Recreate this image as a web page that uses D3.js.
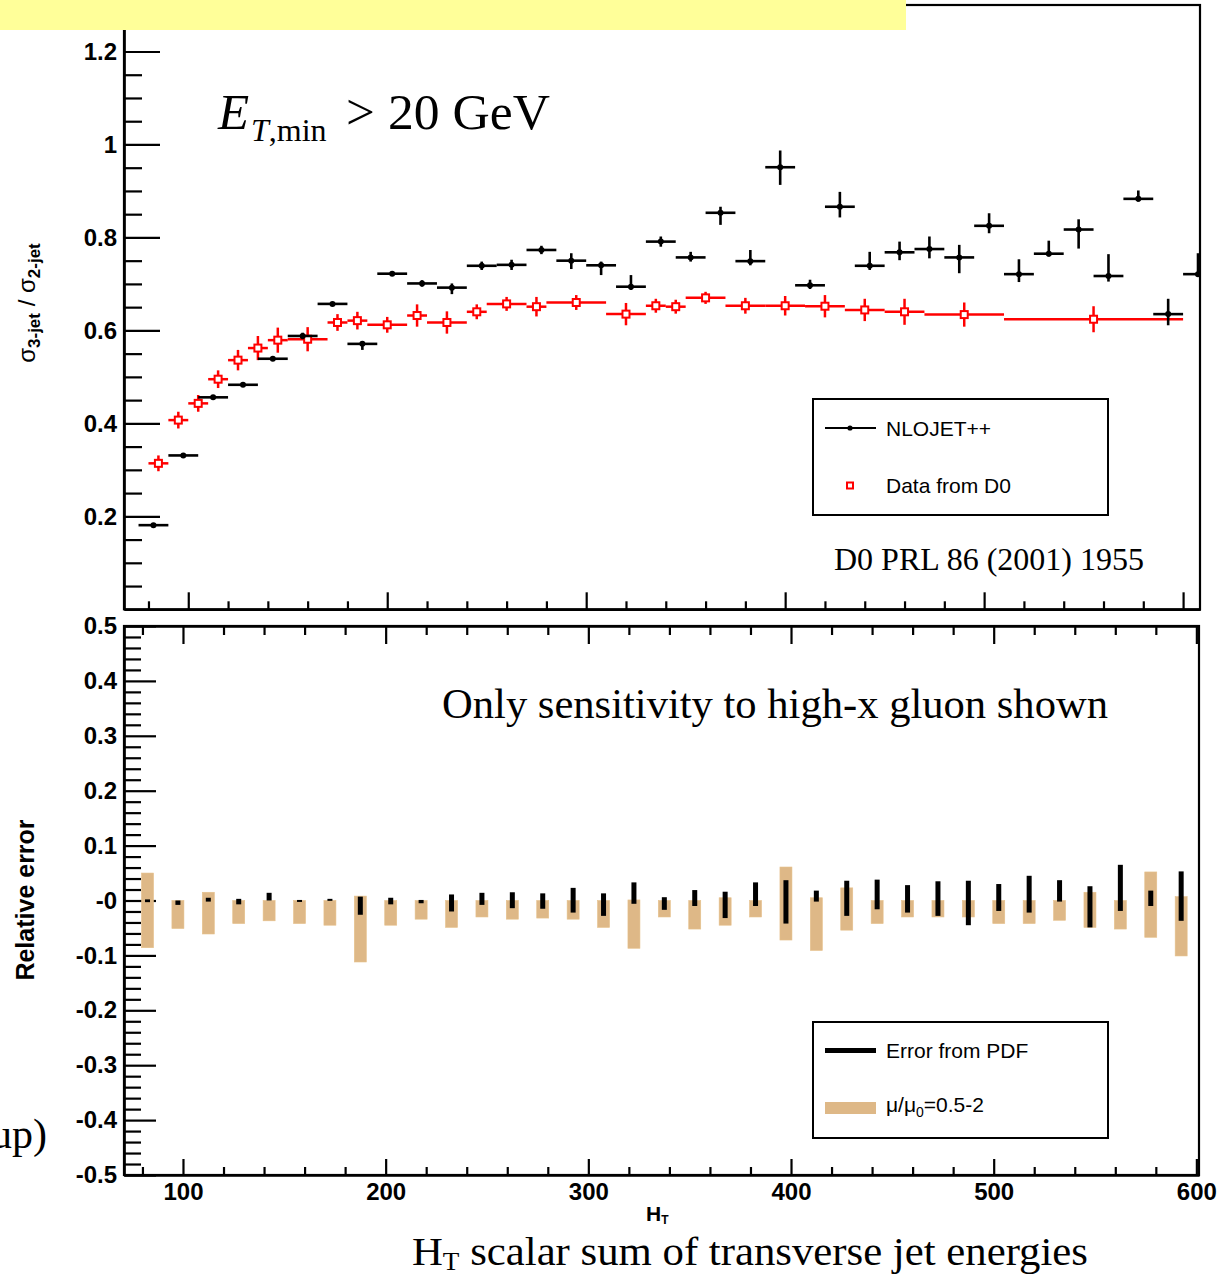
<!DOCTYPE html>
<html>
<head>
<meta charset="utf-8">
<script src="https://cdn.jsdelivr.net/npm/d3@7"></script>
<style>
  html, body { margin: 0; padding: 0; background: #fff; }
  svg { display: block; }
</style>
</head>
<body>
<svg id="chart" width="1230" height="1276"></svg>
<script>
// ---------------- DATA ----------------
// NLOJET++ bins (H_T centres, GeV) and bin width
const htBinCentres = [82.5, 97.5, 112.5, 127.5, 142.5, 157.5, 172.5, 187.5, 202.5, 217.5, 232.5, 247.5,
  262.5, 277.5, 292.5, 307.5, 322.5, 337.5, 352.5, 367.5, 382.5, 397.5, 412.5, 427.5, 442.5, 457.5,
  472.5, 487.5, 502.5, 517.5, 532.5, 547.5, 562.5, 577.5, 592.5, 607.5];
const htBinWidth = 15;

// sigma(3-jet)/sigma(2-jet) from NLOJET++
const nloRatio = [0.181, 0.331, 0.456, 0.483, 0.539, 0.588, 0.657, 0.571, 0.722, 0.701, 0.692, 0.739,
  0.741, 0.773, 0.750, 0.740, 0.694, 0.791, 0.757, 0.853, 0.749, 0.951, 0.697, 0.866, 0.739, 0.768,
  0.775, 0.757, 0.825, 0.721, 0.765, 0.817, 0.717, 0.883, 0.635, 0.721];
const nloErrHi = [0.002, 0.003, 0.003, 0.003, 0.004, 0.007, 0.003, 0.006, 0.003, 0.007, 0.009, 0.009,
  0.011, 0.009, 0.016, 0.008, 0.025, 0.011, 0.012, 0.013, 0.024, 0.036, 0.012, 0.032, 0.030, 0.023,
  0.027, 0.027, 0.027, 0.032, 0.028, 0.022, 0.047, 0.018, 0.033, 0.045];
const nloErrLo = [0.002, 0.003, 0.003, 0.003, 0.004, 0.007, 0.003, 0.013, 0.003, 0.007, 0.014, 0.009,
  0.011, 0.009, 0.018, 0.021, 0.007, 0.011, 0.009, 0.026, 0.009, 0.038, 0.008, 0.023, 0.009, 0.017,
  0.020, 0.034, 0.016, 0.017, 0.006, 0.041, 0.012, 0.006, 0.024, 0.002];

// D0 data: bin edges, ratio, error
const d0Edges = [80, 90, 100, 110, 120, 130, 140, 150, 170, 180, 190, 210, 220, 240, 250, 270, 280,
  310, 330, 340, 350, 370, 390, 410, 430, 450, 470, 510, 600];
const d0Ratio = [0.314, 0.407, 0.443, 0.495, 0.536, 0.562, 0.579, 0.581, 0.617, 0.621, 0.612, 0.632,
  0.617, 0.640, 0.657, 0.651, 0.660, 0.635, 0.653, 0.651, 0.670, 0.653, 0.653, 0.652, 0.644, 0.640,
  0.634, 0.624];
const d0Err = [0.017, 0.018, 0.018, 0.019, 0.022, 0.026, 0.027, 0.026, 0.018, 0.019, 0.017, 0.024,
  0.024, 0.016, 0.015, 0.021, 0.016, 0.024, 0.015, 0.015, 0.013, 0.017, 0.021, 0.024, 0.024, 0.028,
  0.026, 0.028];

// Relative errors (lower panel), first 35 bins
const scaleHi = [0.050, 0, 0.015, 0, 0, 0, 0, 0.008, 0, 0, 0, 0, 0, 0, 0, 0, 0.001, 0, 0, 0.005, 0,
  0.061, 0.005, 0.023, 0, 0, 0, 0, 0, 0, 0, 0.015, 0, 0.052, 0.007];
const scaleLo = [-0.086, -0.051, -0.061, -0.042, -0.037, -0.042, -0.045, -0.112, -0.045, -0.034, -0.049,
  -0.030, -0.034, -0.032, -0.034, -0.049, -0.087, -0.030, -0.052, -0.045, -0.030, -0.072, -0.091, -0.054,
  -0.042, -0.030, -0.030, -0.030, -0.042, -0.042, -0.036, -0.049, -0.052, -0.067, -0.101];
const pdfHi = [0.002, 0, 0.005, 0.003, 0.014, 0.001, 0.003, 0.007, 0.005, 0.001, 0.011, 0.014, 0.015,
  0.013, 0.023, 0.013, 0.033, 0.006, 0.019, 0.016, 0.033, 0.037, 0.018, 0.036, 0.038, 0.028, 0.035,
  0.036, 0.030, 0.045, 0.037, 0.026, 0.065, 0.018, 0.053];
const pdfLo = [-0.003, -0.008, -0.002, -0.007, 0, -0.001, 0, -0.026, -0.007, -0.005, -0.020, -0.008,
  -0.014, -0.015, -0.022, -0.028, -0.006, -0.017, -0.010, -0.032, -0.010, -0.042, -0.002, -0.028,
  -0.016, -0.022, -0.028, -0.045, -0.019, -0.022, -0.002, -0.049, -0.019, -0.010, -0.037];

// Tick values / labels
const topYMajor = [0.2, 0.4, 0.6, 0.8, 1.0, 1.2];
const botYMajor = [0.5, 0.4, 0.3, 0.2, 0.1, 0, -0.1, -0.2, -0.3, -0.4, -0.5];
const xMajor = [100, 200, 300, 400, 500, 600];

// ---------------- DRAWING ----------------
const svg = d3.select("#chart");
const BLACK = "#000", RED = "#ff0000", TAN = "#deb887";
const sansBold = "'Liberation Sans', Arial, Helvetica, sans-serif";
const serif = "'Liberation Serif', 'Times New Roman', serif";

// Scales
const xTop = d3.scaleLinear().domain([67.7, 608.5]).range([124, 1200]);
const yTop = d3.scaleLinear().domain([0, 1.3]).range([609.3, 5]);
const xBot = d3.scaleLinear().domain([70.9, 601.3]).range([124, 1199]);
const yBot = d3.scaleLinear().domain([-0.5, 0.5]).range([1175, 626]);

const TICKFONT = 24;
function styleAxis(g) {
  g.selectAll("path.domain").attr("stroke", BLACK).attr("stroke-width", 2.2);
  g.selectAll(".tick line").attr("stroke", BLACK).attr("stroke-width", 2.2);
  g.selectAll(".tick text").attr("fill", BLACK).style("font-family", sansBold)
    .style("font-weight", "bold").style("font-size", TICKFONT + "px");
}
function minorVals(lo, hi, step, exclude) {
  const out = [];
  for (let v = lo; v <= hi + 1e-9; v += step) {
    const r = Math.round(v * 1000) / 1000;
    if (!exclude.some(e => Math.abs(e - r) < 1e-6)) out.push(r);
  }
  return out;
}

// ===== TOP PANEL =====
const topG = svg.append("g");
topG.append("rect").attr("x", 124).attr("y", 5).attr("width", 1200 - 124).attr("height", 609.3 - 5)
  .attr("fill", "none").attr("stroke", BLACK).attr("stroke-width", 2.2);

topG.append("g").attr("transform", "translate(124,0)")
  .call(d3.axisLeft(yTop).tickValues(minorVals(0.05, 1.3, 0.05, topYMajor)).tickSize(-18).tickSizeOuter(0).tickFormat(""))
  .call(styleAxis);
topG.append("g").attr("transform", "translate(124,0)")
  .call(d3.axisLeft(yTop).tickValues(topYMajor).tickSize(-36).tickSizeOuter(0).tickPadding(7)
    .tickFormat(d => d3.format("~g")(d)))
  .call(styleAxis);
topG.append("g").attr("transform", "translate(0,609.3)")
  .call(d3.axisBottom(xTop).tickValues(minorVals(80, 600, 20, xMajor)).tickSize(-8).tickSizeOuter(0).tickFormat(""))
  .call(styleAxis);
topG.append("g").attr("transform", "translate(0,609.3)")
  .call(d3.axisBottom(xTop).tickValues(xMajor).tickSize(-17).tickSizeOuter(0).tickFormat(""))
  .call(styleAxis);

svg.append("defs").append("clipPath").attr("id", "clipTop")
  .append("rect").attr("x", 124).attr("y", 5).attr("width", 1076).attr("height", 604);

const topData = topG.append("g").attr("clip-path", "url(#clipTop)");

// D0 data (red)
const d0 = d0Ratio.map((v, i) => ({ lo: d0Edges[i], hi: d0Edges[i + 1], v, e: d0Err[i] }));
const redG = topData.append("g");
redG.selectAll("line.h").data(d0).join("line").attr("class", "h")
  .attr("x1", d => xTop(d.lo)).attr("x2", d => xTop(d.hi))
  .attr("y1", d => yTop(d.v)).attr("y2", d => yTop(d.v))
  .attr("stroke", RED).attr("stroke-width", 2.5);
redG.selectAll("line.v").data(d0).join("line").attr("class", "v")
  .attr("x1", d => xTop((d.lo + d.hi) / 2)).attr("x2", d => xTop((d.lo + d.hi) / 2))
  .attr("y1", d => yTop(d.v - d.e)).attr("y2", d => yTop(d.v + d.e))
  .attr("stroke", RED).attr("stroke-width", 2.5);
redG.selectAll("rect").data(d0).join("rect")
  .attr("x", d => xTop((d.lo + d.hi) / 2) - 3.5).attr("y", d => yTop(d.v) - 3.5)
  .attr("width", 7).attr("height", 7).attr("fill", "#fff").attr("stroke", RED).attr("stroke-width", 2);

// NLOJET++ (black)
const nlo = nloRatio.map((v, i) => ({ c: htBinCentres[i], v, eh: nloErrHi[i], el: nloErrLo[i] }));
const blkG = topData.append("g");
blkG.selectAll("line.h").data(nlo).join("line").attr("class", "h")
  .attr("x1", d => xTop(d.c - htBinWidth / 2)).attr("x2", d => xTop(d.c + htBinWidth / 2))
  .attr("y1", d => yTop(d.v)).attr("y2", d => yTop(d.v))
  .attr("stroke", BLACK).attr("stroke-width", 2.6);
blkG.selectAll("line.v").data(nlo).join("line").attr("class", "v")
  .attr("x1", d => xTop(d.c)).attr("x2", d => xTop(d.c))
  .attr("y1", d => yTop(d.v - d.el)).attr("y2", d => yTop(d.v + d.eh))
  .attr("stroke", BLACK).attr("stroke-width", 2.6);
blkG.selectAll("circle").data(nlo).join("circle")
  .attr("cx", d => xTop(d.c)).attr("cy", d => yTop(d.v)).attr("r", 3).attr("fill", BLACK);

// top y title
const ty = svg.append("text").attr("transform", "translate(35,303) rotate(-90)")
  .attr("text-anchor", "middle").attr("fill", BLACK)
  .style("font-family", sansBold).style("font-weight", "bold");
ty.append("tspan").text("σ").style("font-size", "24px").style("font-weight", "normal");
ty.append("tspan").text("3-jet").style("font-size", "17px").attr("dy", 5);
ty.append("tspan").text(" / ").style("font-size", "24px").style("font-weight", "normal").attr("dy", -5);
ty.append("tspan").text("σ").style("font-size", "24px").style("font-weight", "normal");
ty.append("tspan").text("2-jet").style("font-size", "17px").attr("dy", 5);

// Top legend
const lg1 = svg.append("g");
lg1.append("rect").attr("x", 813).attr("y", 399).attr("width", 295).attr("height", 116)
  .attr("fill", "#fff").attr("stroke", BLACK).attr("stroke-width", 2);
lg1.append("line").attr("x1", 825).attr("x2", 876).attr("y1", 428).attr("y2", 428)
  .attr("stroke", BLACK).attr("stroke-width", 2.2);
lg1.append("circle").attr("cx", 850).attr("cy", 428).attr("r", 2.6).attr("fill", BLACK);
lg1.append("text").attr("x", 886).attr("y", 435.5).text("NLOJET++")
  .style("font-family", sansBold).style("font-size", "21px").attr("fill", BLACK);
lg1.append("rect").attr("x", 847).attr("y", 482.5).attr("width", 6).attr("height", 6)
  .attr("fill", "#fff").attr("stroke", RED).attr("stroke-width", 2);
lg1.append("text").attr("x", 886).attr("y", 492.5).text("Data from D0")
  .style("font-family", sansBold).style("font-size", "21px").attr("fill", BLACK);

// Annotations top
svg.append("text").attr("x", 834).attr("y", 570).text("D0 PRL 86 (2001) 1955")
  .style("font-family", serif).style("font-size", "32px").attr("fill", BLACK)
  .attr("textLength", 310).attr("lengthAdjust", "spacingAndGlyphs");
const et = svg.append("g").style("font-family", serif).attr("fill", BLACK);
et.append("text").attr("x", 218).attr("y", 129).text("E").style("font-style", "italic").style("font-size", "51px");
const sub = et.append("text").attr("x", 251).attr("y", 141).style("font-size", "32px");
sub.append("tspan").text("T").style("font-style", "italic");
sub.append("tspan").text(",min");
et.append("text").attr("x", 346).attr("y", 129).text(">").style("font-size", "51px");
et.append("text").attr("x", 388).attr("y", 129).text("20 GeV").style("font-size", "51px")
  .attr("textLength", 162).attr("lengthAdjust", "spacingAndGlyphs");

// Yellow banner
svg.append("rect").attr("x", 0).attr("y", 0).attr("width", 906).attr("height", 30).attr("fill", "#ffff99");

// ===== BOTTOM PANEL =====
const botG = svg.append("g");
botG.append("rect").attr("x", 124).attr("y", 626).attr("width", 1199 - 124).attr("height", 1175 - 626)
  .attr("fill", "none").attr("stroke", BLACK).attr("stroke-width", 2.2);

const botMinorY = minorVals(-0.5, 0.5, 0.02, botYMajor);
botG.append("g").attr("transform", "translate(124,0)")
  .call(d3.axisLeft(yBot).tickValues(botMinorY).tickSize(-17).tickSizeOuter(0).tickFormat(""))
  .call(styleAxis);
botG.append("g").attr("transform", "translate(124,0)")
  .call(d3.axisLeft(yBot).tickValues(botYMajor).tickSize(-32).tickSizeOuter(0).tickPadding(7)
    .tickFormat(d => d === 0 ? "-0" : d3.format("~g")(d).replace("−", "-")))
  .call(styleAxis);
const botMinorX = minorVals(80, 600, 20, xMajor);
botG.append("g").attr("transform", "translate(0,1175)")
  .call(d3.axisBottom(xBot).tickValues(botMinorX).tickSize(-8).tickSizeOuter(0).tickFormat(""))
  .call(styleAxis);
botG.append("g").attr("transform", "translate(0,1175)")
  .call(d3.axisBottom(xBot).tickValues(xMajor).tickSize(-16).tickSizeOuter(0).tickPadding(8))
  .call(styleAxis);
botG.append("g").attr("transform", "translate(0,626)")
  .call(d3.axisTop(xBot).tickValues(botMinorX).tickSize(-9).tickSizeOuter(0).tickFormat(""))
  .call(styleAxis);
botG.append("g").attr("transform", "translate(0,626)")
  .call(d3.axisTop(xBot).tickValues(xMajor).tickSize(-18).tickSizeOuter(0).tickFormat(""))
  .call(styleAxis);

// bars
const rel = scaleHi.map((h, i) => ({ c: htBinCentres[i], sh: h, sl: scaleLo[i], ph: pdfHi[i], pl: pdfLo[i] }));
botG.append("g").selectAll("rect").data(rel).join("rect")
  .attr("x", d => xBot(d.c) - 6).attr("width", 12)
  .attr("y", d => yBot(d.sh)).attr("height", d => yBot(d.sl) - yBot(d.sh))
  .attr("fill", TAN).attr("stroke", "#e6c08a").attr("stroke-width", 0.6);
botG.append("g").selectAll("rect").data(rel).join("rect")
  .attr("x", d => xBot(d.c) - 2.5).attr("width", 5)
  .attr("y", d => yBot(d.ph)).attr("height", d => Math.max(2, yBot(d.pl) - yBot(d.ph)))
  .attr("fill", BLACK);

// bottom legend
const lg2 = svg.append("g");
lg2.append("rect").attr("x", 813).attr("y", 1022).attr("width", 295).attr("height", 116)
  .attr("fill", "#fff").attr("stroke", BLACK).attr("stroke-width", 2);
lg2.append("rect").attr("x", 825).attr("y", 1048).attr("width", 51).attr("height", 5).attr("fill", BLACK);
lg2.append("text").attr("x", 886).attr("y", 1058).text("Error from PDF")
  .style("font-family", sansBold).style("font-size", "21px").attr("fill", BLACK);
lg2.append("rect").attr("x", 825).attr("y", 1102).attr("width", 51).attr("height", 12).attr("fill", TAN);
const mu = lg2.append("text").attr("x", 886).attr("y", 1112)
  .style("font-family", sansBold).style("font-size", "21px").attr("fill", BLACK);
mu.append("tspan").text("μ/μ");
mu.append("tspan").text("0").style("font-size", "14px").attr("dy", 5);
mu.append("tspan").text("=0.5-2").attr("dy", -5);

// bottom y title
svg.append("text").attr("transform", "translate(34,900) rotate(-90)").attr("text-anchor", "middle")
  .text("Relative error").style("font-family", sansBold).style("font-weight", "bold")
  .style("font-size", "25px").attr("fill", BLACK);

// x title
const xt = svg.append("text").attr("x", 646).attr("y", 1221)
  .style("font-family", sansBold).style("font-weight", "bold").style("font-size", "21px").attr("fill", BLACK);
xt.append("tspan").text("H");
xt.append("tspan").text("T").style("font-size", "12px").attr("dy", 3);

// annotations bottom
svg.append("text").attr("x", 442).attr("y", 718).text("Only sensitivity to high-x gluon shown")
  .style("font-family", serif).style("font-size", "42px").attr("fill", BLACK)
  .attr("textLength", 666).attr("lengthAdjust", "spacingAndGlyphs");
const ht = svg.append("text").attr("x", 412).attr("y", 1265)
  .style("font-family", serif).style("font-size", "41px").attr("fill", BLACK)
  .attr("textLength", 676).attr("lengthAdjust", "spacingAndGlyphs");
ht.append("tspan").text("H");
ht.append("tspan").text("T").style("font-size", "26px").attr("dy", 5);
ht.append("tspan").text(" scalar sum of transverse jet energies").attr("dy", -5);
svg.append("text").attr("x", -9).attr("y", 1148).text("up)")
  .style("font-family", serif).style("font-size", "42px").attr("fill", BLACK);
</script>
</body>
</html>
